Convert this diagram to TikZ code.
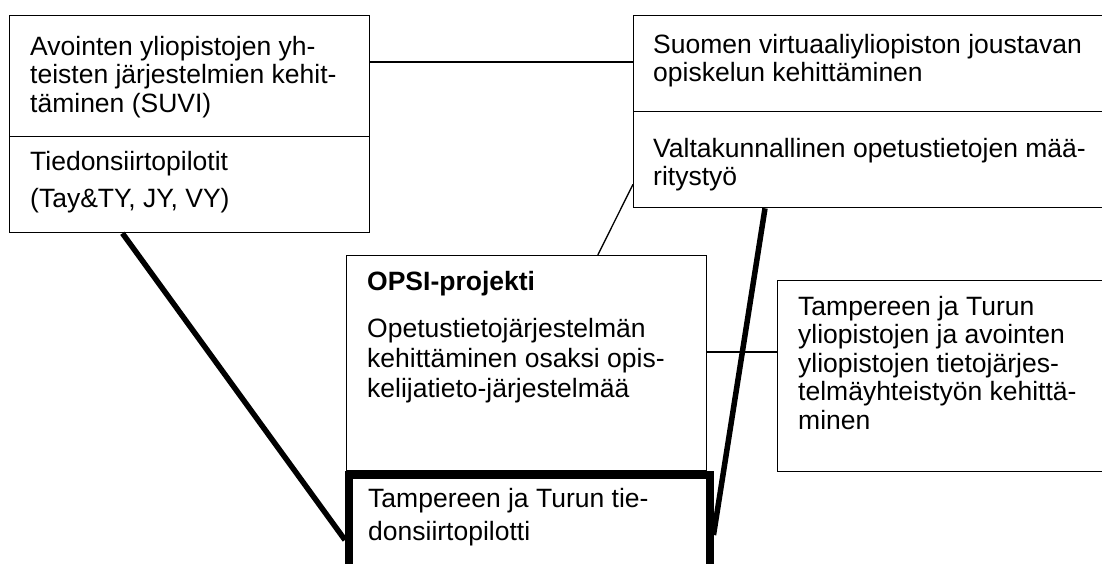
\documentclass[tikz,border=0pt]{standalone}
\usepackage{fontspec}
\setmainfont{Liberation Sans}
\usetikzlibrary{calc}
\begin{document}
\begin{tikzpicture}[x=1pt,y=-1pt,
  box/.style={draw,line width=1.3pt,inner sep=0pt,anchor=north west},
  heavybox/.style={draw,line width=7.5pt,inner sep=0pt,anchor=north west},
  txt/.style={anchor=base west,align=left,inner sep=0pt,font=\fontsize{26.5}{28.5}\selectfont},
  thinline/.style={line width=1.3pt},
  heavyline/.style={line width=5.5pt}]
\useasboundingbox (0,0) rectangle (1102,563);
% boxes
\node[box,minimum width=360pt,minimum height=121pt] (L1) at (9,15) {};
\node[box,minimum width=360pt,minimum height=96pt] (L2) at (9,136) {};
\node[box,minimum width=480pt,minimum height=96pt] (R1) at (633,15) {};
\node[box,minimum width=480pt,minimum height=96pt] (R2) at (633,111) {};
\node[box,minimum width=360pt,minimum height=215pt] (OPSI) at (346,255) {};
\node[box,minimum width=340pt,minimum height=191pt] (S) at (777,280) {};
\node[heavybox,minimum width=361pt,minimum height=130pt] (T) at (345,471) {};
% texts (anchor = baseline of the last line)
\node[txt] (tL1) at (30,112) {Avointen yliopistojen yh-\\teisten järjestelmien kehit-\\täminen (SUVI)};
\node[txt] (tL2a) at (30,170) {Tiedonsiirtopilotit};
\node[txt] (tL2b) at (30,207) {(Tay\&TY, JY, VY)};
\node[txt] (tR1) at (653,81.5) {Suomen virtuaaliyliopiston joustavan\\opiskelun kehittäminen};
\node[txt] (tR2) at (653,185.5) {Valtakunnallinen opetustietojen mää-\\ritystyö};
\node[txt] (tO1) at (367,290) {\bfseries OPSI-projekti};
\node[txt,font=\fontsize{26.5}{30}\selectfont] (tO2) at (367,397) {Opetustietojärjestelmän\\kehittäminen osaksi opis-\\kelijatieto-järjestelmää};
\node[txt,font=\fontsize{26.5}{33}\selectfont] (tT) at (368,540) {Tampereen ja Turun tie-\\donsiirtopilotti};
\node[txt] (tS) at (798,429) {Tampereen ja Turun\\yliopistojen ja avointen\\yliopistojen tietojärjes-\\telmäyhteistyön kehittä-\\minen};
% connectors
\draw[thinline] ($(L1.north east)+(0,47)$) coordinate (c1) -- (c1 -| R1.west);
\draw[thinline] ($(OPSI.north west)!0.697!(OPSI.north east)$) -- ($(R2.south west)+(0,-24)$);
\draw[thinline] ($(OPSI.north east)+(0,97)$) coordinate (c2) -- (c2 -| S.west);
\draw[heavyline] ($(L2.south west)!0.314!(L2.south east)$) -- ($(T.north west)+(0,69)$);
\draw[heavyline] ($(R2.south west)+(132,0)$) -- ($(T.north east)+(0,64)$);
\end{tikzpicture}
\end{document}
